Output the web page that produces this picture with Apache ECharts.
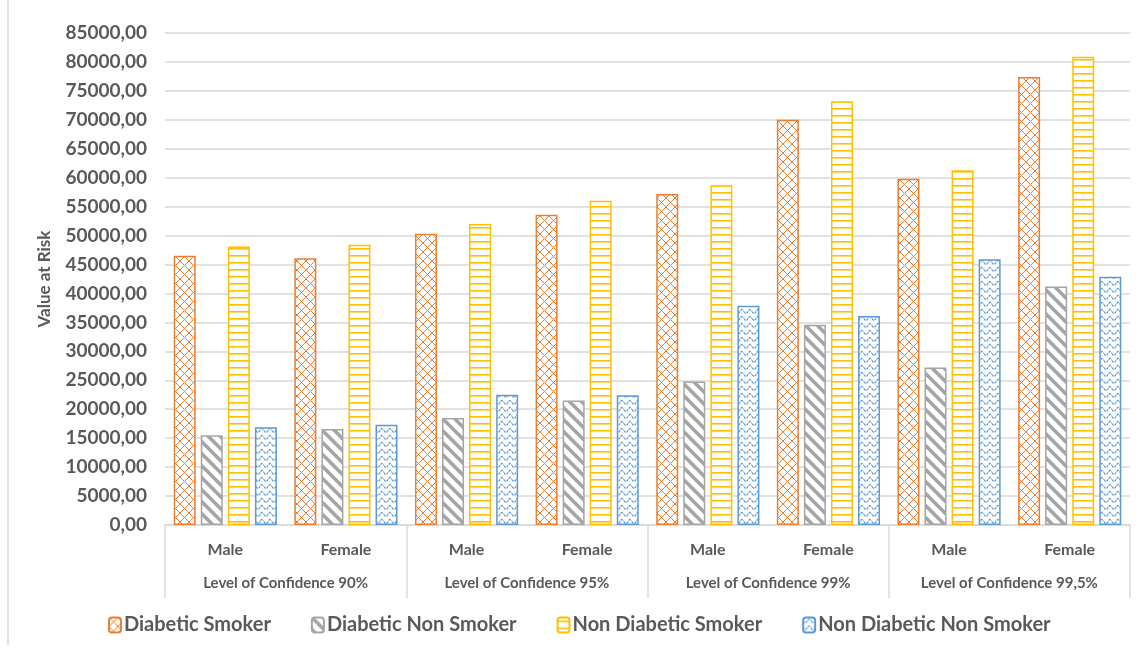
<!DOCTYPE html>
<html>
<head>
<meta charset="utf-8">
<script src="https://cdn.jsdelivr.net/npm/echarts@6/dist/echarts.min.js"></script>
<style>
  html, body { margin: 0; padding: 0; background: #ffffff; }
  #chart { width: 1142px; height: 649px; }
</style>
</head>
<body>
<div id="chart"></div>
<script>
// Categories: sex within each confidence level
const categories = ['Male', 'Female', 'Male', 'Female', 'Male', 'Female', 'Male', 'Female'];
const confidenceLevels = ['Level of Confidence 90%', 'Level of Confidence 95%', 'Level of Confidence 99%', 'Level of Confidence 99,5%'];
const seriesNames = ['Diabetic Smoker', 'Diabetic Non Smoker', 'Non Diabetic Smoker', 'Non Diabetic Non Smoker'];

// Value at Risk per category
const diabeticSmoker       = [46500, 46100, 50300, 53600, 57200, 70000, 59800, 77400];
const diabeticNonSmoker    = [15500, 16600, 18500, 21500, 24800, 34600, 27200, 41200];
const nonDiabeticSmoker    = [48100, 48400, 52000, 56000, 58700, 73200, 61300, 80900];
const nonDiabeticNonSmoker = [16900, 17300, 22500, 22400, 37900, 36100, 45900, 42900];

const FONT = 'Lato, "Open Sans", sans-serif';
const TEXT = '#595959';

function tile(w, h, draw) {
  const c = document.createElement('canvas');
  c.width = w; c.height = h;
  const ctx = c.getContext('2d');
  ctx.fillStyle = '#ffffff';
  ctx.fillRect(0, 0, w, h);
  draw(ctx, w, h);
  return { image: c, repeat: 'repeat' };
}

// Diamond cross-hatch
const crossHatch = tile(9, 9, (ctx, w, h) => {
  ctx.strokeStyle = '#ED7D31';
  ctx.lineWidth = 1;
  ctx.beginPath();
  ctx.moveTo(0, 0); ctx.lineTo(w, h);
  ctx.moveTo(w, 0); ctx.lineTo(0, h);
  ctx.stroke();
});

// Wide downward diagonal stripes
const diagStripes = tile(12, 12, (ctx, w, h) => {
  ctx.strokeStyle = '#A5A5A5';
  ctx.lineWidth = 3.6;
  ctx.beginPath();
  for (let k = -1; k <= 1; k++) {
    ctx.moveTo(k * w - 1, -1);
    ctx.lineTo(k * w + w + 1, h + 1);
  }
  ctx.stroke();
});

// Horizontal lines
const hLines = tile(4, 7, (ctx, w, h) => {
  ctx.fillStyle = '#FFC000';
  ctx.fillRect(0, 3, w, 1.6);
});

// Dotted waves
const waves = tile(8, 7, (ctx, w, h) => {
  ctx.strokeStyle = '#5B9BD5';
  ctx.lineWidth = 1.3;
  ctx.setLineDash([2.5, 1]);
  ctx.beginPath();
  for (let x = 0; x <= w; x += 0.5) {
    const y = 3.5 + 2 * Math.sin((2 * Math.PI * x) / w);
    if (x === 0) ctx.moveTo(x, y); else ctx.lineTo(x, y);
  }
  ctx.stroke();
});

const chart = echarts.init(document.getElementById('chart'), null, { renderer: 'canvas' });

function barSeries(name, data, fill, border) {
  return {
    name: name,
    type: 'bar',
    data: data,
    barWidth: 22,
    barGap: '23%',
    itemStyle: { color: fill, borderColor: border, borderWidth: 1.5 },
    emphasis: { disabled: true }
  };
}

chart.setOption({
  animation: false,
  backgroundColor: '#ffffff',
  grid: { left: 165, right: 12, top: 33, bottom: 124, containLabel: false },
  legend: {
    left: 103,
    top: 610,
    itemWidth: 12,
    itemHeight: 15,
    itemGap: 40,
    textStyle: { fontFamily: FONT, fontSize: 20, fontWeight: 'bold', color: TEXT, padding: [0, 0, 0, -2] },
    data: seriesNames
  },
  xAxis: [
    {
      type: 'category',
      data: categories,
      position: 'bottom',
      axisLine: { show: true, lineStyle: { color: '#D9D9D9', width: 1.5 } },
      axisTick: { show: false },
      axisLabel: { margin: 17, fontFamily: FONT, fontSize: 16, fontWeight: 'bold', color: TEXT },
      splitLine: { show: false }
    },
    {
      type: 'category',
      data: confidenceLevels,
      position: 'bottom',
      gridIndex: 0,
      axisLine: { show: false },
      axisTick: { show: true, length: 73, lineStyle: { color: '#D9D9D9', width: 1.5 } },
      axisLabel: { margin: 51, fontFamily: FONT, fontSize: 15, fontWeight: 'bold', color: TEXT },
      splitLine: { show: false }
    }
  ],
  yAxis: {
    type: 'value',
    min: 0,
    max: 85000,
    interval: 5000,
    name: 'Value at Risk',
    nameLocation: 'middle',
    nameGap: 112,
    nameTextStyle: { fontFamily: FONT, fontSize: 17, fontWeight: 'bold', color: TEXT },
    axisLine: { show: false },
    axisTick: { show: false },
    axisLabel: {
      margin: 18,
      fontFamily: FONT, fontSize: 19, fontWeight: 'bold', color: TEXT,
      formatter: v => v.toFixed(2).replace('.', ',')
    },
    splitLine: { lineStyle: { color: '#D9D9D9', width: 1.5 } }
  },
  series: [
    barSeries(seriesNames[0], diabeticSmoker, crossHatch, '#ED7D31'),
    barSeries(seriesNames[1], diabeticNonSmoker, diagStripes, '#A5A5A5'),
    barSeries(seriesNames[2], nonDiabeticSmoker, hLines, '#FFC000'),
    barSeries(seriesNames[3], nonDiabeticNonSmoker, waves, '#5B9BD5')
  ],
  graphic: [
    { type: 'line', shape: { x1: 8, y1: 0, x2: 8, y2: 645 }, style: { stroke: '#D9D9D9', lineWidth: 1.5 } }
  ]
});
</script>
</body>
</html>
